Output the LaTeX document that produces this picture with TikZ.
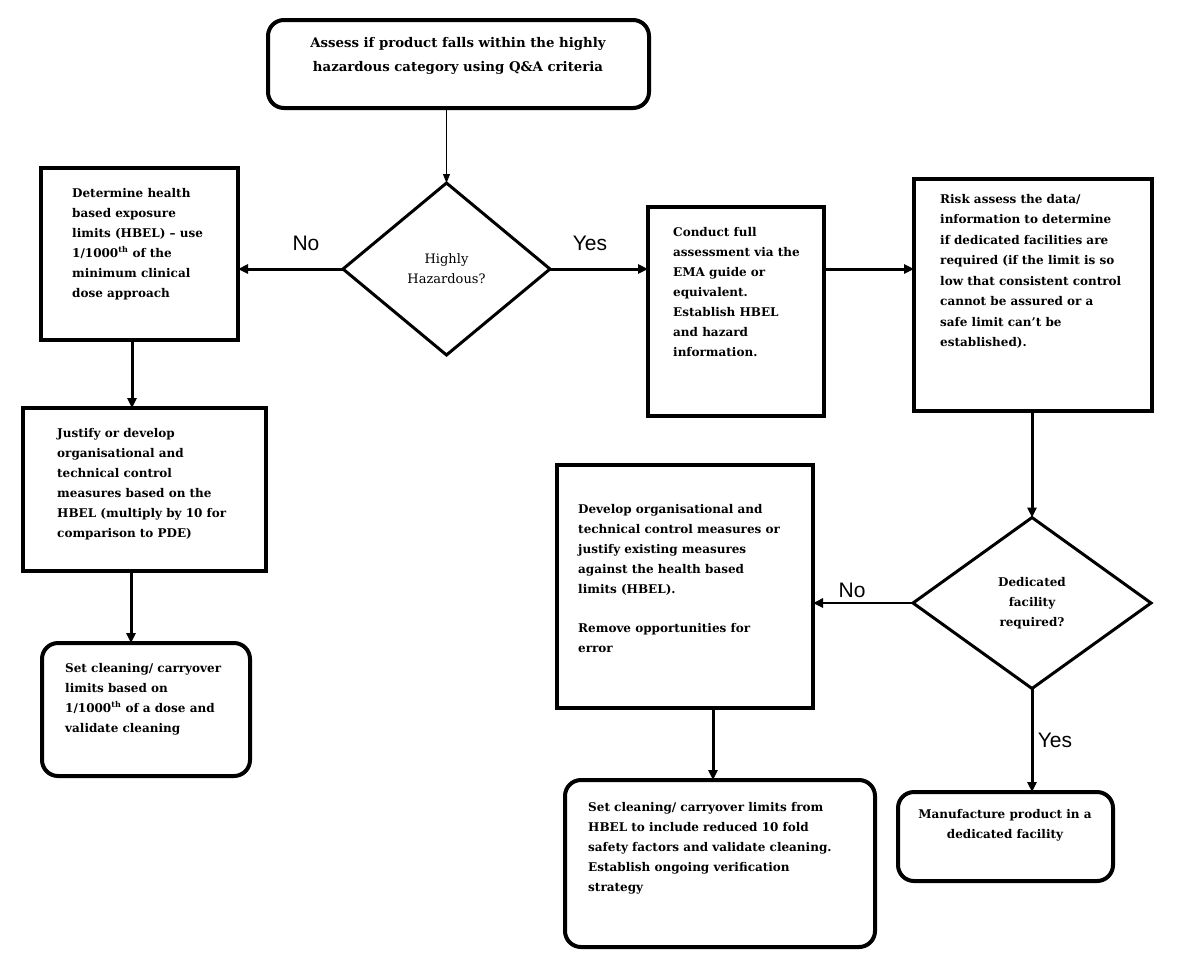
\documentclass[tikz,border=0pt]{standalone}
\usepackage{fontspec}
\setmainfont{DejaVu Serif}
\newfontfamily\labelfont{Liberation Sans}
\usetikzlibrary{shapes.geometric,arrows.meta}
\tikzset{
  box/.style={draw, line width=4pt, inner sep=0pt, outer sep=0pt},
  rbox/.style={box, rounded corners=16pt},
  dec/.style={diamond, draw, line width=3pt, inner sep=0pt, outer sep=0pt, align=center},
  txt/.style={anchor=north west, inner sep=0pt, align=left, font=\bfseries\fontsize{12}{20}\selectfont},
  arr/.style={line width=3pt, -{Triangle[length=10pt,width=9pt]}},
  thin arr/.style={line width=1pt, -{Triangle[length=9pt,width=7pt]}},
  lbl/.style={font=\labelfont\fontsize{21}{21}\selectfont, inner sep=0pt},
}
\begin{document}
\begin{tikzpicture}[x=1pt,y=-1pt]
\useasboundingbox[fill=white] (0,0) rectangle (1180,970);

% frames
\node[rbox, minimum width=381pt, minimum height=88pt] (top) at (458.5,64) {};
\node[dec, minimum width=207pt, minimum height=172pt,
      font=\fontsize{13}{20}\selectfont] (d1) at (446.5,269) {Highly\\Hazardous?};
\node[box, minimum width=197pt, minimum height=172pt] (b1) at (139.5,254) {};
\node[box, minimum width=243pt, minimum height=163pt] (b2) at (144.5,489.5) {};
\node[rbox, minimum width=208pt, minimum height=133pt] (b3) at (146,709.5) {};
\node[box, minimum width=176pt, minimum height=209pt] (b4) at (736,311.5) {};
\node[box, minimum width=238pt, minimum height=232pt] (b5) at (1033,295) {};
\node[dec, minimum width=238pt, minimum height=171pt,
      font=\bfseries\fontsize{12}{20}\selectfont] (d2) at (1032,603) {Dedicated\\facility\\required?};
\node[box, minimum width=256pt, minimum height=243pt] (b6) at (685,586.5) {};
\node[rbox, minimum width=310pt, minimum height=167pt] (b7) at (720,863.5) {};
\node[rbox, minimum width=215pt, minimum height=89pt] (b8) at (1005.5,836.5) {};

% texts
\node[txt, anchor=north, align=center, font=\bfseries\fontsize{13.3}{24}\selectfont] (t0) at (458,37)
  {Assess if product falls within the highly\\hazardous category using Q\&A criteria};
\node[txt] (t1) at (72,188) {Determine health\\based exposure\\limits (HBEL) – use\\1/1000\textsuperscript{th} of the\\minimum clinical\\dose approach};
\node[txt] (t2) at (57,428) {Justify or develop\\organisational and\\technical control\\measures based on the\\HBEL (multiply by 10 for\\comparison to PDE)};
\node[txt] (t3) at (65,663) {Set cleaning/ carryover\\limits based on\\1/1000\textsuperscript{th} of a dose and\\validate cleaning};
\node[txt] (t4) at (673,227) {Conduct full\\assessment via the\\EMA guide or\\equivalent.\\Establish HBEL\\and hazard\\information.};
\node[txt, font=\bfseries\fontsize{12}{20.5}\selectfont] (t5) at (940,194) {Risk assess the data/\\information to determine\\if dedicated facilities are\\required (if the limit is so\\low that consistent control\\cannot be assured or a\\safe limit can’t be\\established).};
\node[txt] (t6) at (578,504) {Develop organisational and\\technical control measures or\\justify existing measures\\against the health based\\limits (HBEL).\\[19pt]Remove opportunities for\\error};
\node[txt] (t7) at (588,802) {Set cleaning/ carryover limits from\\HBEL to include reduced 10 fold\\safety factors and validate cleaning.\\Establish ongoing verification\\strategy};
\node[txt, anchor=north, align=center] (t8) at (1005,809) {Manufacture product in a\\dedicated facility};

% labels
\node[lbl] (lno1) at (306,243) {No};
\node[lbl] (lyes1) at (590,243) {Yes};
\node[lbl] (lno2) at (852,590) {No};
\node[lbl] (lyes2) at (1055,740) {Yes};

% connectors
\draw[thin arr] (d1.north |- top.south) -- (d1.north);
\draw[arr] (d1.west) -- (d1.west -| b1.east);
\draw[arr] (d1.east) -- (d1.east -| b4.west);
\draw[arr] (d1.east -| b4.east) -- (d1.east -| b5.west);
\draw[arr] (d2.north |- b5.south) -- (d2.north);
\draw[arr, line width=2.5pt] (d2.west) -- (d2.west -| b6.east);
\draw[arr] (d2.south) -- (d2.south |- b8.north);
\draw[arr] ([xshift=-7.5pt]b1.south) -- ([xshift=-7.5pt]b1.south |- b2.north);
\draw[arr] ([xshift=-13.5pt]b2.south) -- ([xshift=-13.5pt]b2.south |- b3.north);
\draw[arr] ([xshift=28pt]b6.south) -- ([xshift=28pt]b6.south |- b7.north);
\end{tikzpicture}
\end{document}
